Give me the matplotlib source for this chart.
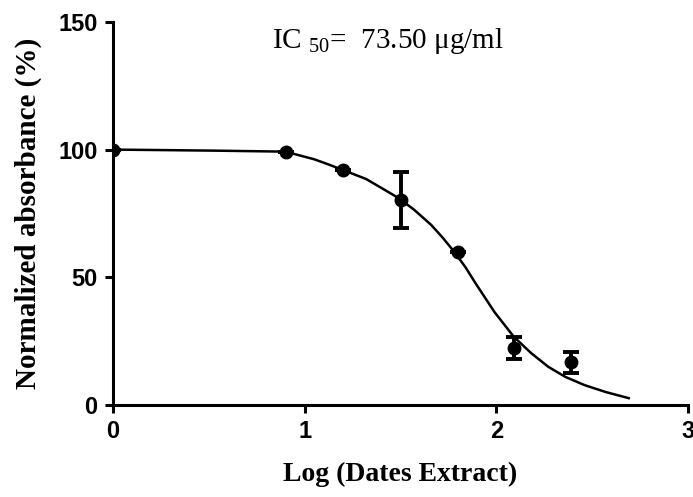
import numpy as np
import matplotlib
matplotlib.use("Agg")
import matplotlib.pyplot as plt

plt.rcParams['mathtext.fontset'] = 'custom'
plt.rcParams['mathtext.rm'] = 'Liberation Serif'

# measured points (log dose, normalized absorbance %, error)
log_dose = [0.0, 0.9, 1.2, 1.5, 1.8, 2.09, 2.39]
absorb = [100, 99, 92, 80.4, 60, 22.4, 17]
err_lo = [0, 0, 0, 11, 0, 4.4, 4.5]
err_hi = [0, 0, 0, 11, 0, 4.3, 3.8]

# fitted dose-response curve
fit_x = [0.0, 0.52, 0.9, 0.97, 1.05, 1.12, 1.2, 1.32, 1.40, 1.49, 1.57,
         1.66, 1.72, 1.78, 1.84, 1.89, 1.99, 2.09, 2.18, 2.27, 2.36, 2.46,
         2.57, 2.69]
fit_y = [100, 99.6, 99.2, 97.8, 96.2, 94.3, 92, 88.5, 85, 81, 76.5,
         70.5, 65.5, 60, 53.8, 47.8, 36.4, 26.8, 20.4, 15, 11, 7.8,
         5.1, 2.7]

fig = plt.figure(figsize=(6.93, 4.97), dpi=100)
ax = fig.add_axes([0.163, 0.185, 0.830, 0.771])

ax.plot(fit_x, fit_y, color='black', lw=1.8, zorder=2)
ax.errorbar(log_dose, absorb, yerr=[err_lo, err_hi], fmt='o', color='black',
            ms=9, elinewidth=2.8, capsize=6, capthick=2.8, zorder=3)

ax.set_xlim(0, 3)
ax.set_ylim(0, 150)
ax.set_xticks([0, 1, 2, 3])
ax.set_yticks([0, 50, 100, 150])
for s in ['top', 'right']:
    ax.spines[s].set_visible(False)
for s in ['left', 'bottom']:
    ax.spines[s].set_linewidth(2.2)
ax.tick_params(width=2.2, length=6, direction='out', pad=5)
for lab in ax.get_xticklabels() + ax.get_yticklabels():
    lab.set_fontfamily('Liberation Sans')
    lab.set_fontweight('bold')
    lab.set_fontsize(17)

ax.set_xlabel('Log (Dates Extract)', fontfamily='Liberation Serif',
              fontweight='bold', fontsize=20, labelpad=13)
ax.set_ylabel('Normalized absorbance (%)', fontfamily='Liberation Serif',
              fontweight='bold', fontsize=21, labelpad=12)

ax.text(0.83, 142.5, r'IC $_{50}$=  73.50 μg/ml', fontfamily='Liberation Serif',
        fontsize=21, ha='left', va='center')

fig.savefig('out.png', dpi=100)
